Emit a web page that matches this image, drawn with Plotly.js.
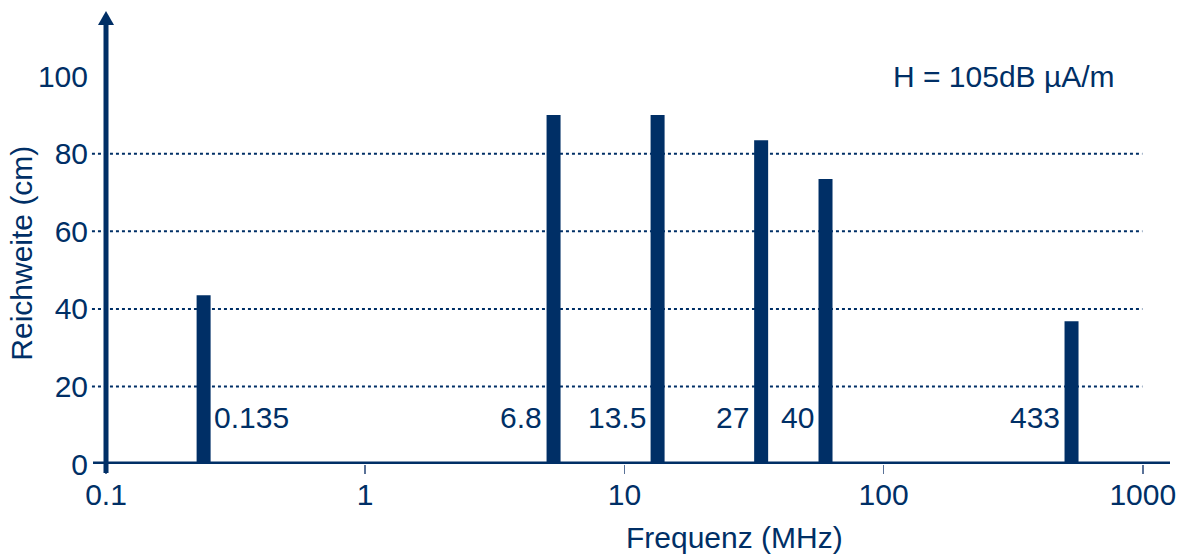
<!DOCTYPE html>
<html>
<head>
<meta charset="utf-8">
<script src="https://cdn.plot.ly/plotly-3.0.1.min.js"></script>
<style>html,body{margin:0;padding:0;background:#fff;}#chart{width:1182px;height:556px;}</style>
</head>
<body>
<div id="chart"></div>
<script>
// Data
const freqLabels = ['0.135', '6.8', '13.5', '27', '40', '433'];      // text labels beside bars
const barPositionsMHz = [0.238, 5.33, 13.43, 33.7, 59.7, 531];        // bar positions on log axis (as drawn)
const reachCm = [43.5, 90, 90, 83.5, 73.5, 36.8];                     // Reichweite (cm)
const labelSide = ['right', 'left', 'left', 'left', 'left', 'left'];
const xTickVals = [0.1, 1, 10, 100, 1000];
const xTickText = ['0.1', '1', '10', '100', '1000'];
const yTickVals = [0, 20, 40, 60, 80, 100];
const gridVals = [20, 40, 60, 80];
const noteText = 'H = 105dB µA/m';
const xTitle = 'Frequenz (MHz)';
const yTitle = 'Reichweite (cm)';

const NAVY = '#002f66';
const FONT = 'Liberation Sans, Arial, Helvetica, sans-serif';
const FS = 30;

// Build vertical bar segments
const bx = [], by = [];
barPositionsMHz.forEach((x, i) => { bx.push(x, x, null); by.push(0, reachCm[i], null); });

const traces = [{
  type: 'scatter', mode: 'lines', x: bx, y: by,
  line: {color: NAVY, width: 14}, hoverinfo: 'skip', showlegend: false
}];

const annotations = freqLabels.map((t, i) => ({
  x: Math.log10(barPositionsMHz[i]), y: 12, xref: 'x', yref: 'y',
  text: t, showarrow: false,
  xanchor: labelSide[i] === 'right' ? 'left' : 'right',
  xshift: labelSide[i] === 'right' ? 8 : -10,
  yanchor: 'middle',
  font: {family: FONT, size: FS, color: NAVY}
}));
annotations.push({
  x: 0.7378, y: 0.882, xref: 'paper', yref: 'paper', xanchor: 'left', yanchor: 'middle',
  text: noteText, showarrow: false, font: {family: FONT, size: FS, color: NAVY}
});
annotations.push({
  x: 0.591, y: -0.168, xref: 'paper', yref: 'paper', xanchor: 'center', yanchor: 'middle',
  text: xTitle, showarrow: false, font: {family: FONT, size: FS, color: NAVY}
});
annotations.push({
  x: -0.0795, y: 0.48, xref: 'paper', yref: 'paper', xanchor: 'center', yanchor: 'middle',
  textangle: -90, text: yTitle, showarrow: false, font: {family: FONT, size: FS, color: NAVY}
});

const shapes = [];
gridVals.forEach(v => shapes.push({
  type: 'line', xref: 'paper', yref: 'y', x0: -0.0132, x1: 0.974, y0: v, y1: v,
  line: {color: NAVY, width: 2, dash: 'dot'}, layer: 'below'
}));
// axis lines
shapes.push({type: 'line', xref: 'paper', yref: 'y', x0: -0.0122, x1: 1, y0: 0, y1: 0,
  line: {color: NAVY, width: 5}, layer: 'above'});
shapes.push({type: 'line', xref: 'paper', yref: 'paper', x0: 0, x1: 0, y0: -0.0205, y1: 1,
  line: {color: NAVY, width: 5}, layer: 'above'});
// arrowhead on y axis
shapes.push({type: 'path', xref: 'paper', yref: 'paper', xsizemode: 'pixel', ysizemode: 'pixel',
  xanchor: 0, yanchor: 1, path: 'M -8,0 L 8,0 L 0,14 Z',
  fillcolor: NAVY, line: {color: NAVY, width: 0}, layer: 'above'});

const layout = {
  width: 1182, height: 556,
  margin: {l: 106, r: 12, t: 25, b: 92},
  paper_bgcolor: '#fff', plot_bgcolor: '#fff',
  showlegend: false,
  font: {family: FONT, size: FS, color: NAVY},
  xaxis: {
    type: 'log', range: [-1, 3.105], tickvals: xTickVals, ticktext: xTickText,
    ticks: 'outside', ticklen: 9, tickwidth: 1.5, tickcolor: '#5a7298',
    ticklabelstandoff: -5,
    showgrid: false, zeroline: false, showline: false,
    tickfont: {family: FONT, size: FS, color: NAVY}, fixedrange: true
  },
  yaxis: {
    range: [0, 113.2], tickvals: yTickVals, ticks: 'outside', ticklen: 11,
    tickcolor: 'rgba(0,0,0,0)', showgrid: false, zeroline: false, showline: false,
    tickfont: {family: FONT, size: FS, color: NAVY},
    fixedrange: true
  },
  shapes: shapes,
  annotations: annotations
};

Plotly.newPlot('chart', traces, layout, {staticPlot: true, displayModeBar: false});
</script>
</body>
</html>
